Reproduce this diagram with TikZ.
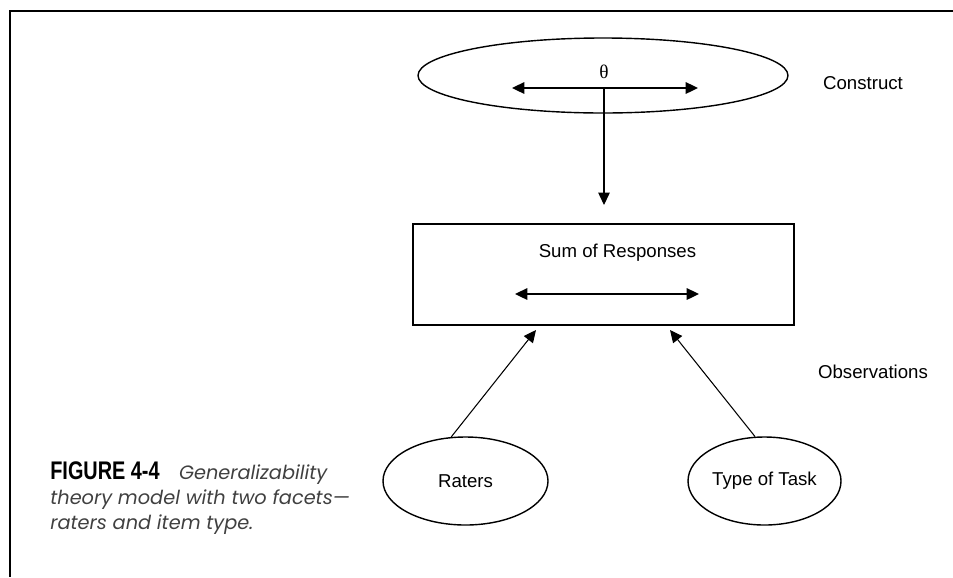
\documentclass[tikz,border=0pt]{standalone}
\usepackage{fontspec}
\setmainfont{Liberation Sans}
\newfontfamily\thetafont{Liberation Serif}
\newfontfamily\figfont[FakeStretch=0.78]{Liberation Sans}
\newfontfamily\capfont{Poppins}
\usetikzlibrary{shapes.geometric,arrows.meta}

\begin{document}
\begin{tikzpicture}[
    facet/.style={draw,ellipse,line width=0.8pt,inner sep=0pt},
    lbl/.style={font=\fontsize{10.6}{12}\selectfont},
    tip/.style={-{Triangle[length=7pt,width=6.5pt]},line width=0.6pt},
    both/.style={{Triangle[length=7pt,width=6.5pt]}-{Triangle[length=7pt,width=6.5pt]},line width=1.1pt}]
    \useasboundingbox (0,0) rectangle (19.06,-11.54);
    % frame
    \draw [line width=0.8pt] (19.06,-0.22) -| (0.2,-11.54);
    % construct
    \node (construct) [facet,minimum width=7.4cm,minimum height=1.5cm] at (12.06,-1.51) {};
    \node (theta) [font=\thetafont\fontsize{11}{12}\selectfont] at (12.08,-1.44) {θ};
    \coordinate (thL) at (10.24,-1.76);
    \coordinate (thR) at (13.96,-1.76);
    \coordinate (thM) at (12.08,-1.76);
    \draw [both] (thL) -- (thR);
    \node (constructlbl) [lbl] at (17.26,-1.66) {Construct};
    % observations
    \node (sum) [draw,line width=0.8pt,minimum width=7.62cm,minimum height=2.02cm] at (12.07,-5.49) {};
    \node (sumlbl) [lbl] at (12.35,-5.06) {Sum of Responses};
    \coordinate (sumL) at (10.30,-5.88);
    \coordinate (sumR) at (13.98,-5.88);
    \draw [both] (sumL) -- (sumR);
    \coordinate (sumtop) at (12.08,-4.10);
    \draw [tip] (thM) -- (sumtop);
    \node (obslbl) [lbl] at (17.46,-7.44) {Observations};
    % facets
    \node (raters) [facet,lbl,minimum width=3.3cm,minimum height=1.76cm] at (9.31,-9.62) {Raters};
    \node (task) [facet,lbl,minimum width=3.06cm,minimum height=1.76cm] at (15.29,-9.62) {Type of Task};
    \coordinate (inL) at (10.72,-6.60);
    \coordinate (inR) at (13.40,-6.60);
    \draw [tip] (raters.108) -- (inL);
    \draw [tip] (task.102) -- (inR);
    % caption
    \node (caption) [anchor=west,align=left,inner sep=0pt,text=black!75,
        font=\capfont\itshape\fontsize{11}{14.2}\selectfont] at (1.0,-9.96)
        {{\figfont\upshape\bfseries\fontsize{14.5}{14.2}\selectfont\color{black}FIGURE 4-4}\quad Generalizability\\
         theory model with two facets—\\
         raters and item type.};
\end{tikzpicture}
\end{document}
